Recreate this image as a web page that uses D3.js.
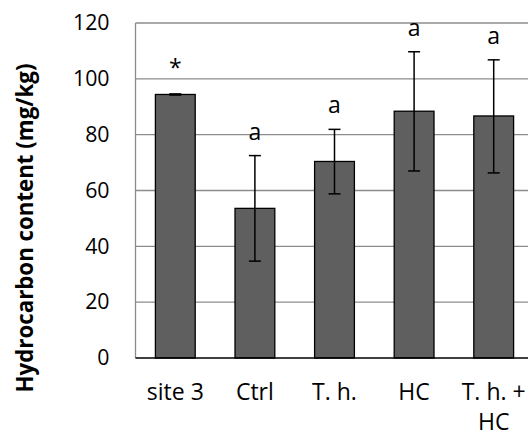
<!DOCTYPE html>
<html><head><meta charset="utf-8">
<script src="https://cdn.jsdelivr.net/npm/d3@7"></script>
<style>body{margin:0;background:#fff}svg{display:block}</style>
</head><body>
<script>
const categories = [["site 3"], ["Ctrl"], ["T. h."], ["HC"], ["T. h. +", "HC"]];
const values = [94.4, 53.6, 70.4, 88.4, 86.7];
const errLow = [94.2, 34.7, 58.8, 67.0, 66.3];
const errHigh = [94.6, 72.5, 81.9, 109.7, 106.8];
const letters = ["*", "a", "a", "a", "a"];
const yTicks = [0, 20, 40, 60, 80, 100, 120];

(function () {
const W = 528, H = 434;
const svg = d3.select("body").append("svg").attr("width", W).attr("height", H);
const font = "'Open Sans', Lato, sans-serif";
const plotLeft = 135.5, bandW = 79.6, plotTop = 23, plotBottom = 358;
const x = d3.scaleBand().domain(d3.range(categories.length)).range([plotLeft, plotLeft + bandW * categories.length]).paddingInner(0.5).paddingOuter(0.25);
const y = d3.scaleLinear().domain([0, 120]).range([plotBottom, plotTop]);

// gridlines
svg.append("g").selectAll("line").data(yTicks.filter(d => d > 0)).join("line")
  .attr("x1", plotLeft).attr("x2", W).attr("y1", d => y(d)).attr("y2", d => y(d))
  .attr("stroke", "#8c8c8c").attr("stroke-width", 1.3);
// left axis line
svg.append("line").attr("x1", plotLeft).attr("x2", plotLeft).attr("y1", y(120)).attr("y2", y(0))
  .attr("stroke", "#8c8c8c").attr("stroke-width", 1.3);

// y tick labels
const yAxis = d3.axisLeft(y).tickValues(yTicks).tickSize(0).tickPadding(26);
const ga = svg.append("g").attr("transform", `translate(${plotLeft},0)`).call(yAxis);
ga.select(".domain").remove();
ga.selectAll("text").attr("font-family", font).attr("font-size", 21.3).attr("fill", "#000");

// bars
svg.append("g").selectAll("rect").data(values).join("rect")
  .attr("x", (d, i) => x(i)).attr("width", x.bandwidth())
  .attr("y", d => y(d)).attr("height", d => y(0) - y(d))
  .attr("fill", "#5f5f5f").attr("stroke", "#000").attr("stroke-width", 1.3);

// bottom axis line
svg.append("line").attr("x1", plotLeft).attr("x2", W).attr("y1", y(0)).attr("y2", y(0))
  .attr("stroke", "#000").attr("stroke-width", 1.5);

// error bars
const eg = svg.append("g").attr("stroke", "#000").attr("stroke-width", 1.5);
values.forEach((v, i) => {
  const cx = x(i) + x.bandwidth() / 2;
  eg.append("line").attr("x1", cx).attr("x2", cx).attr("y1", y(errHigh[i])).attr("y2", y(errLow[i]));
  eg.append("line").attr("x1", cx - 6).attr("x2", cx + 6).attr("y1", y(errHigh[i])).attr("y2", y(errHigh[i]));
  eg.append("line").attr("x1", cx - 6).attr("x2", cx + 6).attr("y1", y(errLow[i])).attr("y2", y(errLow[i]));
});

// letters
svg.append("g").selectAll("text").data(letters).join("text")
  .attr("x", (d, i) => x(i) + x.bandwidth() / 2)
  .attr("y", (d, i) => y(errHigh[i]) - (d === "*" ? 18 : 16))
  .attr("text-anchor", "middle").attr("font-family", font).attr("font-size", 23)
  .text(d => d);

// category labels
const cg = svg.append("g");
categories.forEach((lines, i) => {
  const t = cg.append("text").attr("x", x(i) + x.bandwidth() / 2).attr("y", 400)
    .attr("text-anchor", "middle").attr("font-family", font).attr("font-size", 23);
  lines.forEach((l, j) => t.append("tspan").attr("x", x(i) + x.bandwidth() / 2).attr("dy", j ? 30 : 0).text(l));
});

// y title, fitted to the reference's span
const title = svg.append("text").attr("transform", "translate(33,228) rotate(-90)")
  .attr("text-anchor", "middle").attr("font-family", font).attr("font-weight", "bold")
  .attr("font-size", 20).text("Hydrocarbon content (mg/kg)");
const len = title.node().getComputedTextLength();
title.attr("font-size", 20 * 329 / len);
})();
</script>
</body></html>
